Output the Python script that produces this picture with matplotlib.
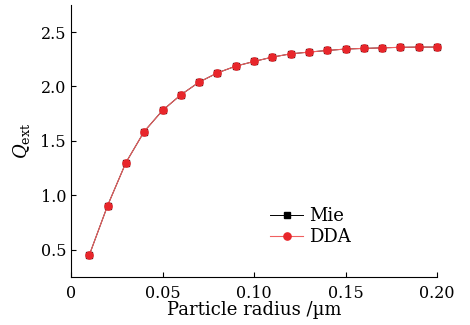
import numpy as np
from matplotlib import pyplot as plt

# particle radius (um) and extinction efficiency
radius = [0.01, 0.02, 0.03, 0.04, 0.05, 0.06, 0.07, 0.08, 0.09, 0.10,
          0.11, 0.12, 0.13, 0.14, 0.15, 0.16, 0.17, 0.18, 0.19, 0.20]
q_mie = [0.45, 0.905, 1.30, 1.586, 1.78, 1.923, 2.04, 2.125, 2.187, 2.23,
         2.27, 2.30, 2.316, 2.331, 2.344, 2.35, 2.355, 2.36, 2.362, 2.362]
q_dda = [0.45, 0.905, 1.30, 1.586, 1.78, 1.923, 2.04, 2.125, 2.187, 2.23,
         2.27, 2.30, 2.316, 2.331, 2.344, 2.35, 2.355, 2.36, 2.362, 2.362]
xticks = [0, 0.05, 0.10, 0.15, 0.20]
xticklabels = ['0', '0.05', '0.10', '0.15', '0.20']
yticks = [0.5, 1.0, 1.5, 2.0, 2.5]

plt.rcParams['font.family'] = ['DejaVu Serif']
plt.rcParams['mathtext.fontset'] = 'dejavuserif'

fig = plt.figure(figsize=(4.7, 3.25), dpi=100)
ax = fig.add_axes([0.151, 0.148, 0.779, 0.837])

ax.plot(radius, q_mie, color='black', lw=0.7, marker='s', ms=4.2,
        mfc='black', mec='black', label='Mie', clip_on=False, zorder=3)
ax.plot(radius, q_dda, color='#f06060', lw=0.8, marker='o', ms=5.2,
        mfc='#e8262b', mec='#e8262b', label='DDA', clip_on=False, zorder=4)

ax.set_xlim(0, 0.20)
ax.set_ylim(0.25, 2.75)
ax.set_xticks(xticks)
ax.set_xticklabels(xticklabels)
ax.set_yticks(yticks)
ax.spines['top'].set_visible(False)
ax.spines['right'].set_visible(False)
ax.tick_params(direction='in', labelsize=11.5, length=3.5, width=0.8)
ax.tick_params(axis='x', pad=6)
ax.set_xlabel('Particle radius /\u00b5m', fontsize=13, labelpad=-1)
ax.set_ylabel('$Q_{\\rm ext}$', fontsize=13, labelpad=6)

ax.legend(loc='upper left', bbox_to_anchor=(0.50, 0.315), frameon=False,
          fontsize=13, handlelength=1.8, handletextpad=0.35, labelspacing=0.15,
          markerscale=1.0)

fig.savefig('out.png', dpi=100)
